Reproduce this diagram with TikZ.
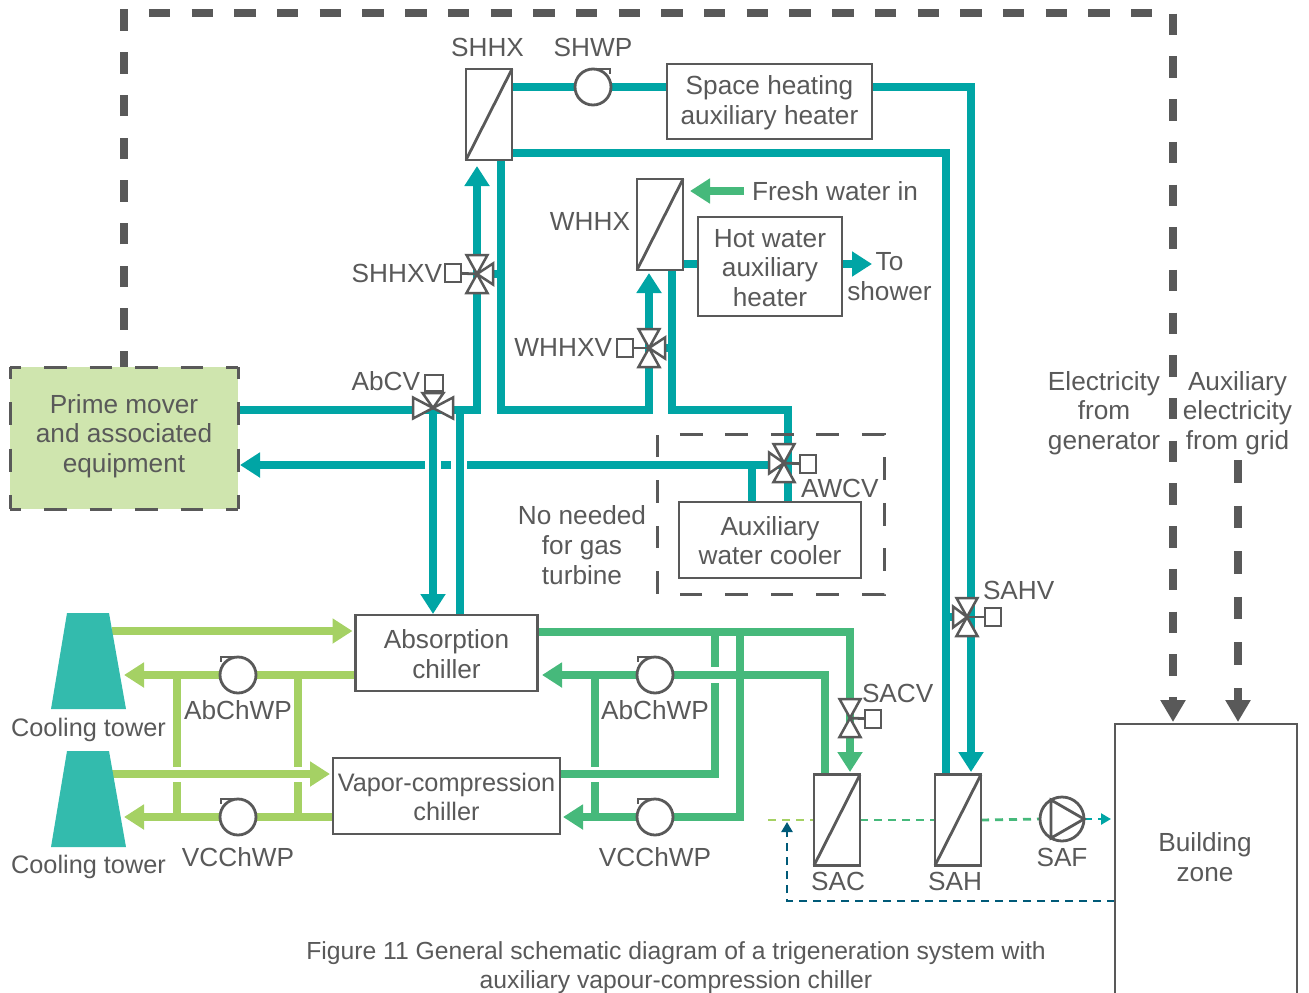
\documentclass[tikz,border=0pt]{standalone}
\usepackage{fontspec}
\setmainfont{Liberation Sans}
\usetikzlibrary{shapes.geometric,arrows.meta,positioning,backgrounds}
\definecolor{linegray}{HTML}{595959}
\definecolor{heatc}{HTML}{00A5A5}
\definecolor{coolc}{HTML}{46B97B}
\definecolor{towerc}{HTML}{A5D164}
\definecolor{shellc}{HTML}{33BBAD}
\definecolor{primec}{HTML}{CFE5AE}
\definecolor{returnc}{HTML}{005A78}
\tikzset{
	lbl/.style={inner sep=0, outer sep=0, text=linegray, align=center, font=\fontsize{26.2}{29.7}\selectfont},
	lblnarrow/.style={lbl, font=\fontsize{25.3}{29.5}\selectfont},
	unitbox/.style={draw=linegray, line width=2.8pt, fill=white, inner sep=0, outer sep=0, lbl},
	hx/.style={unitbox, minimum width=46pt, minimum height=91pt},
	pump/.style={draw=linegray, line width=2.8pt, fill=white, circle, inner sep=0, outer sep=0, minimum size=36pt},
	actbox/.style={draw=linegray, line width=2.5pt, fill=white, inner sep=0, outer sep=0},
	valveline/.style={draw=linegray, line width=2.5pt, fill=white},
	thinline/.style={draw=linegray, line width=2.8pt},
	pipe/.style={line width=8pt},
	big/.style={-{Triangle[length=20pt,width=24pt]}},
	small/.style={-{Triangle[length=10pt,width=11pt]}},
	power/.style={draw=linegray, line width=8pt, -{Triangle[length=22pt,width=24pt]}, shorten >=2pt},
	air/.style={line width=2.8pt, dash pattern=on 8pt off 6pt},
	primeside/.style={draw=linegray, line width=3pt, dash pattern=on 22.7pt off 22.8pt, dash phase=11.3pt},
	primeend/.style={draw=linegray, line width=3pt, dash pattern=on 23pt off 23.5pt, dash phase=11.5pt}
}
\newcommand{\valvearm}[3]{\draw[valveline,shift={(#1)},rotate=#2] (0,0) -- (#3,-10.5) -- (#3,10.5) -- cycle;}
\newcommand{\towershape}[1]{\fill[shellc,shift={(#1)}] (-37.5,0) -- (-21.5,-96) -- (20.5,-96) -- (37.5,0) -- cycle;}

\begin{document}
\begin{tikzpicture}[x=1pt,y=-1pt]
	\useasboundingbox (0,0) rectangle (1309,993);
	% main units
	\node[inner sep=0, outer sep=0, fill=primec, minimum width=228pt, minimum height=142pt] (prime) at (124,438) {};
	\node[lbl] (primet) at (124,436) {Prime mover\\and associated\\equipment};
	\draw[primeside] (prime.north west) -- (prime.north east);
	\draw[primeside] (prime.south west) -- (prime.south east);
	\draw[primeend] (prime.north west) -- (prime.south west);
	\draw[primeend] (prime.north east) -- (prime.south east);
	\node[unitbox, minimum width=205pt, minimum height=75pt] (shaux) at (769.5,101.5) {};
	\node[unitbox, minimum width=144pt, minimum height=99pt] (hwaux) at (770,266.5) {};
	\node[unitbox, minimum width=182pt, minimum height=76pt] (abs) at (446.5,653) {};
	\node[unitbox, minimum width=227pt, minimum height=76pt] (vc) at (446.5,796) {};
	\node[unitbox, minimum width=182pt, minimum height=76pt] (awc) at (770,540) {};
	\node[unitbox, minimum width=182pt, minimum height=286pt] (zone) at (1206,867) {};
	\node[lbl] (shauxt) at (769.5,102.5) {Space heating\\auxiliary heater};
	\node[lbl] (hwauxt) at (770,268) {Hot water\\auxiliary\\heater};
	\node[lbl] (abst) at (446.5,654) {Absorption\\chiller};
	\node[lblnarrow] (vct) at (446.5,797) {Vapor-compression\\chiller};
	\node[lbl] (awct) at (770,540.5) {Auxiliary\\water cooler};
	\node[lbl] (zonet) at (1205,857) {Building\\zone};
	\coordinate (tower1) at (88.5,709);
	\coordinate (tower2) at (88.5,847);
	\towershape{tower1}
	\towershape{tower2}
	\node[lblnarrow, below=9pt of tower1] (tower1t) {Cooling tower};
	\node[lblnarrow, below=8pt of tower2] (tower2t) {Cooling tower};
	% heat exchangers
	\node[hx] (shhx) at (489,114.5) {};
	\node[hx] (whhx) at (660,224.5) {};
	\node[hx] (sac) at (837,820) {};
	\node[hx] (sah) at (958,820) {};
	\draw[thinline] (shhx.south west) -- (shhx.north east);
	\draw[thinline] (whhx.south west) -- (whhx.north east);
	\draw[thinline] (sac.south west) -- (sac.north east);
	\draw[thinline] (sah.south west) -- (sah.north east);
	\node[lbl, above=12pt of shhx, xshift=-1.5pt] (shhxt) {SHHX};
	\node[lbl, left=7pt of whhx, yshift=3pt] (whhxt) {WHHX};
	\node[lbl, below=7pt of sac, xshift=1pt] (sact) {SAC};
	\node[lbl, below=7pt of sah, xshift=-3pt] (saht) {SAH};
	% pumps
	\node[pump] (shwp) at (593,87) {};
	\node[pump] (abp1) at (238,675) {};
	\node[pump] (vcp1) at (238,817) {};
	\node[pump] (abp2) at (655,675) {};
	\node[pump] (vcp2) at (655,817) {};
	\node[pump, minimum size=44pt] (saf) at (1062,819) {};
	\draw[thinline] (shwp.north) -- ++(17,0) -- ++(0,5);
	\draw[thinline] (abp1.north) -- ++(-17,0) -- ++(0,5);
	\draw[thinline] (vcp1.north) -- ++(-17,0) -- ++(0,5);
	\draw[thinline] (abp2.north) -- ++(-17,0) -- ++(0,5);
	\draw[thinline] (vcp2.north) -- ++(-17,0) -- ++(0,5);
	\draw[thinline] (saf.120) -- (saf.east) -- (saf.240) -- cycle;
	\node[lbl, above=12pt of shwp] (shwpt) {SHWP};
	\node[lbl, below=8pt of abp1] (abp1t) {AbChWP};
	\node[lbl, below=13pt of vcp1] (vcp1t) {VCChWP};
	\node[lbl, below=8pt of abp2] (abp2t) {AbChWP};
	\node[lbl, below=13pt of vcp2] (vcp2t) {VCChWP};
	\node[lbl, below=7pt of saf] (saft) {SAF};
	% valves
	\coordinate (shhxv) at (477,274);
	\coordinate (whhxv) at (649,348);
	\coordinate (abcv) at (433,408);
	\coordinate (awcv) at (784,463);
	\coordinate (sahv) at (967,617);
	\coordinate (sacv) at (850,718);
	\node[actbox, minimum width=16pt, minimum height=18pt] (shhxvb) at (453,273) {};
	\node[actbox, minimum width=16pt, minimum height=18pt] (whhxvb) at (625,348) {};
	\node[actbox, minimum width=18pt, minimum height=16pt] (abcvb) at (434,383) {};
	\node[actbox, minimum width=16pt, minimum height=18pt] (awcvb) at (808,464) {};
	\node[actbox, minimum width=16pt, minimum height=18pt] (sahvb) at (993,617) {};
	\node[actbox, minimum width=16pt, minimum height=18pt] (sacvb) at (873,719) {};
	\draw[thinline] (shhxv) -- (shhxvb);
	\draw[thinline] (whhxv) -- (whhxvb);
	\draw[thinline] (abcv) -- (abcvb);
	\draw[thinline] (awcv) -- (awcvb);
	\draw[thinline] (sahv) -- (sahvb);
	\draw[thinline] (sacv) -- (sacvb);
	\foreach \a/\l in {0/16,90/19,-90/19} {\valvearm{shhxv}{\a}{\l}}
	\foreach \a/\l in {0/16,90/19,-90/19} {\valvearm{whhxv}{\a}{\l}}
	\foreach \a/\l in {0/20,90/15,180/20} {\valvearm{abcv}{\a}{\l}}
	\foreach \a/\l in {180/15,90/19,-90/19} {\valvearm{awcv}{\a}{\l}}
	\foreach \a/\l in {180/14,90/19,-90/19} {\valvearm{sahv}{\a}{\l}}
	\foreach \a/\l in {90/19,-90/19} {\valvearm{sacv}{\a}{\l}}
	\node[lbl, left=3pt of shhxvb] (shhxvt) {SHHXV};
	\node[lbl, left=5pt of whhxvb, yshift=0.5pt] (whhxvt) {WHHXV};
	\node[lbl, left=5pt of abcvb, yshift=2pt] (abcvt) {AbCV};
	\node[lbl, below right=6pt and 1pt of awcvb.south west] (awcvt) {AWCV};
	\node[lbl, above right=8pt and -2pt of sahvb.north west] (sahvt) {SAHV};
	\node[lbl, above right=7pt and -3pt of sacvb.north west] (sacvt) {SACV};
	% free texts
	\node[lbl] (freshin) at (835,191) {Fresh water in};
	\node[lbl] (showert) at (889.5,276.5) {To\\shower};
	\node[lbl] (noneed) at (582,545) {No needed\\for gas\\turbine};
	\node[lbl] (gent) at (1104,413) {Electricity\\from\\generator};
	\node[lbl] (gridt) at (1237.5,413) {Auxiliary\\electricity\\from grid};
	\node[lbl, font=\fontsize{24.7}{29}\selectfont] (caption) at (676,968) {Figure 11 General schematic diagram of a trigeneration system with\\auxiliary vapour-compression chiller};
	% junctions
	\coordinate (topl) at (124,13);
	\coordinate (topr) at (1173,13);
	\coordinate (gridc) at (1238,460);
	\coordinate (hwlo) at (501,409.5);
	\coordinate (hwup) at (649,409.5);
	\coordinate (hwin) at (649,273);
	\coordinate (shin) at (477,166);
	\coordinate (awlo) at (672,270);
	\coordinate (awup) at (788,409.5);
	\coordinate (awj) at (752,465);
	\coordinate (sahin) at (971,774);
	\coordinate (sahout) at (946,774);
	\coordinate (acin) at (850,774);
	\coordinate (acout) at (825,774);
	\coordinate (freshs) at (744,191);
	\coordinate (mix) at (768,820);
	\coordinate (mixin) at (787,822);
	\begin{scope}[on background layer]
		% hot side
		\draw[pipe, heatc] (shhx.east |- 0,87) -- (shaux.west |- 0,87);
		\draw[pipe, heatc, big, shorten >=2pt] (shaux.east |- 0,87) -| (sahin);
		\draw[pipe, heatc] (shhx.east |- 0,153) -| (sahout);
		\draw[pipe, heatc] (sahv) -- (sahout |- sahv);
		\draw[pipe, heatc] (shhx.south -| hwlo) |- (hwup) -- (whhxv);
		\draw[pipe, heatc, big] (whhxv) -- (hwin);
		\draw[pipe, heatc] (whhx.south -| awlo) |- (awup) -- (awc.north -| awup);
		\draw[pipe, heatc] (whhxv) -- (whhxv -| awlo);
		\draw[pipe, heatc] (whhx.east |- 0,264) -- (hwaux.west |- 0,264);
		\draw[pipe, heatc, big] (hwaux.east |- 0,264) -- (872,264);
		\draw[pipe, heatc] (prime.east |- hwlo) -- (shin |- hwlo) -- (shhxv);
		\draw[pipe, heatc, big] (shhxv) -- (shin);
		\draw[pipe, heatc] (shhxv) -- (shhxv -| hwlo);
		\draw[pipe, heatc, big, shorten >=1pt] (abcv) -- (abs.north -| abcv);
		\draw[pipe, heatc] (460,409.5) -- (abs.north -| 460,0);
		\draw[pipe, heatc, big, shorten >=2pt] (425,465) -- (prime.east |- awj);
		\draw[pipe, heatc] (441,465) -- (451,465);
		\draw[pipe, heatc] (467,465) -- (awcv |- awj);
		\draw[pipe, heatc] (awj) -- (awc.north -| awj);
		\draw[pipe, coolc, big] (freshs) -- (690,191);
		% cooling tower side
		\draw[pipe, towerc, big, shorten >=3pt] (112,631) -- (abs.west |- 0,631);
		\draw[pipe, towerc, big] (abs.west |- abp1) -- (124,675);
		\draw[pipe, towerc, big, shorten >=3pt] (112,774) -- (vc.west |- 0,774);
		\draw[pipe, towerc, big] (vc.west |- vcp1) -- (124,817);
		\draw[pipe, towerc] (177,675) -- (177,767);
		\draw[pipe, towerc] (177,782) -- (177,817);
		\draw[pipe, towerc] (298,675) -- (298,767);
		\draw[pipe, towerc] (298,782) -- (298,817);
		% chilled side
		\draw[pipe, coolc, big, shorten >=2pt] (abs.east |- 0,632) -| (acin);
		\draw[pipe, coolc, big] (acout) |- (542,675);
		\draw[pipe, coolc] (715,632) -- (715,667);
		\draw[pipe, coolc] (vc.east |- 0,774) -| (715,683);
		\draw[pipe, coolc] (740,632) -- (740,817);
		\draw[pipe, coolc, big] (744,817) -- (563,817);
		\draw[pipe, coolc] (595,675) -- (595,767);
		\draw[pipe, coolc] (595,782) -- (595,817);
		% air side
		\draw[air, towerc] (mix) -- (sac.west);
		\draw[air, coolc] (sac.east) -- (sah.west);
		\draw[air, coolc] (sah.east) -- (saf.west);
		\draw[air, heatc, small, shorten >=4pt] (saf.east) -- (zone.west |- saf);
		\draw[air, returnc, small] (zone.west |- 0,901) -| (mixin);
	\end{scope}
	% electricity
	\draw[power, dash pattern=on 21.4pt off 21.3pt, dash phase=5.4pt] (prime.north) -- (topl) -- (topr) -- (zone.north -| topr);
	\draw[power, dash pattern=on 22.6pt off 23pt] (gridc) -- (zone.north -| gridc);
	% border of the optional cooler
	\draw[draw=linegray, line width=3pt, dash pattern=on 22.6pt off 22.9pt, dash phase=22.6pt] (657,434) -- (884,434) -- (884,594) -- (657,594) -- cycle;
\end{tikzpicture}
\end{document}
